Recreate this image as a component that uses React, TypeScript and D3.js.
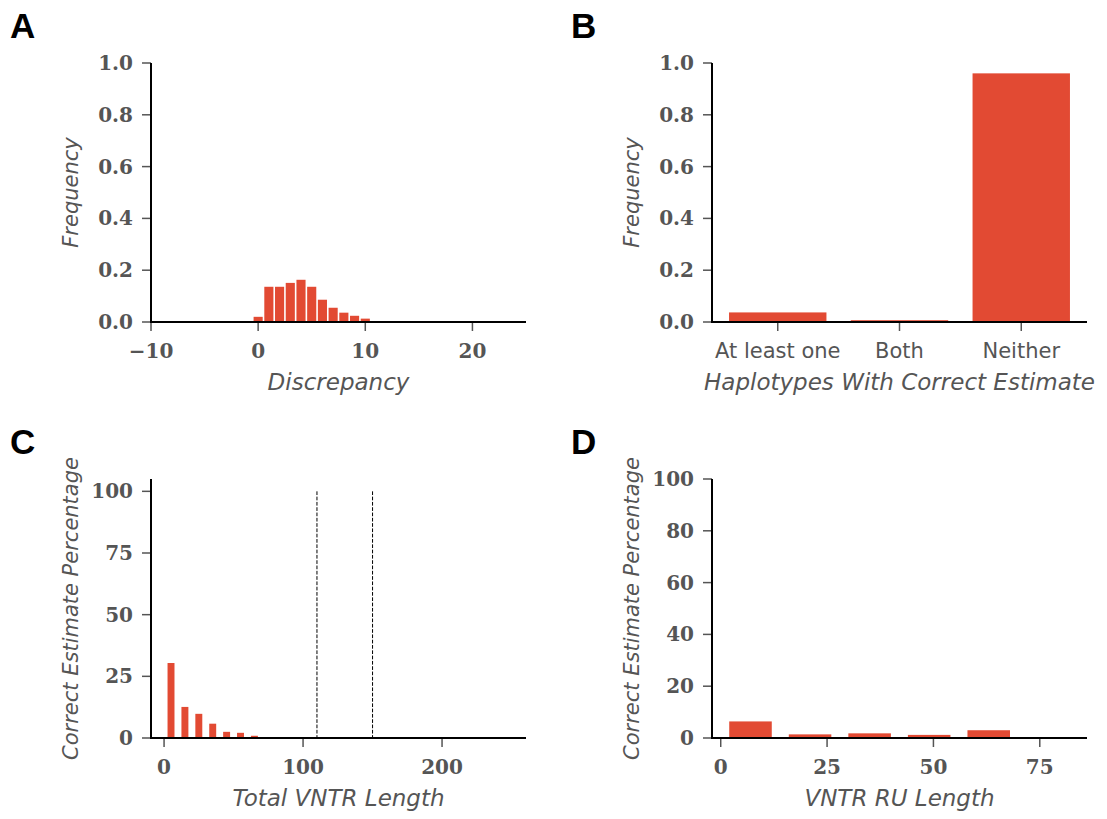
import React from 'react';
import * as d3 from 'd3';

// panel A: discrepancy histogram
const discrepancyBins = [-1, 0, 1, 2, 3, 4, 5, 6, 7, 8, 9, 10, 11, 12];
const discrepancyFreq = [0.002, 0.02, 0.136, 0.136, 0.151, 0.163, 0.136, 0.086, 0.055, 0.036, 0.024, 0.013, 0.003, 0.002];
const discrepancyTicks = [-10, 0, 10, 20];
const freqTicks = [0, 0.2, 0.4, 0.6, 0.8, 1.0];

// panel B: haplotypes with correct estimate
const haplotypeCats = ['At least one', 'Both', 'Neither'];
const haplotypeFreq = [0.037, 0.007, 0.96];

// panel C: total VNTR length
const lengthBins = [5, 15, 25, 35, 45, 55, 65, 75, 85];
const lengthPct = [30.4, 12.6, 9.8, 5.8, 2.5, 2.1, 0.9, 0.3, 0.3];
const lengthTicks = [0, 100, 200];
const lengthPctTicks = [0, 25, 50, 75, 100];
const lengthCutoffs = [110, 150];

// panel D: VNTR RU length
const ruBins = [7, 21, 35, 49, 63];
const ruPct = [6.4, 1.4, 1.8, 1.2, 3.0];
const ruTicks = [0, 25, 50, 75];
const ruPctTicks = [0, 20, 40, 60, 80, 100];

const RED = '#e24a33';
const GREY = '#555';
const tickFont = '"DejaVu Serif", serif';
const labelFont = '"DejaVu Sans", sans-serif';

type PanelProps = {
  letter: string;
  left: number;
  top: number;
  xDomain: [number, number];
  yDomain: [number, number];
  xTicks: number[];
  xTickLabels?: string[];
  yTicks: number[];
  yFormat: (v: number) => string;
  xTitle: string;
  yTitle: string;
  barX: number[];
  barY: number[];
  barWidth: number;
  vlines?: number[];
  vlineTop?: number;
};

const W = 375;
const H = 259;

function Panel(p: PanelProps) {
  const x = d3.scaleLinear().domain(p.xDomain).range([p.left, p.left + W]);
  const y = d3.scaleLinear().domain(p.yDomain).range([p.top + H, p.top]);
  const y0 = p.top + H;
  const fmtX = (v: number) => (v < 0 ? '\u2212' + Math.abs(v) : String(v));
  const isCat = !!p.xTickLabels;
  return (
    <g>
      <text x={p.left - 141} y={p.top - 25} fontFamily='"Liberation Sans", Arial, sans-serif' fontWeight="bold" fontSize={35} fill="#000">
        {p.letter}
      </text>
      {p.barX.map((b, i) => (
        <rect
          key={i}
          x={x(b - p.barWidth / 2)}
          width={x(b + p.barWidth / 2) - x(b - p.barWidth / 2)}
          y={y(p.barY[i])}
          height={y0 - y(p.barY[i])}
          fill={RED}
        />
      ))}
      {(p.vlines || []).map((v, i) => (
        <line key={i} x1={x(v)} x2={x(v)} y1={y(p.vlineTop || 0)} y2={y0} stroke="#000" strokeWidth={1} strokeDasharray="3.7,1.6" />
      ))}
      {/* y axis */}
      {p.yTicks.map((t) => (
        <g key={t}>
          <line x1={p.left - 9} x2={p.left} y1={y(t)} y2={y(t)} stroke={GREY} strokeWidth={1.5} />
          <text x={p.left - 18} y={y(t)} textAnchor="end" dominantBaseline="central" fontFamily={tickFont} fontWeight="bold" fontSize={20} fill={GREY}>
            {p.yFormat(t)}
          </text>
        </g>
      ))}
      {/* x axis */}
      {p.xTicks.map((t, i) => (
        <g key={t}>
          <line x1={x(t)} x2={x(t)} y1={y0} y2={y0 + 9} stroke={GREY} strokeWidth={1.5} />
          <text
            x={x(t)}
            y={y0 + 36}
            textAnchor="middle"
            fontFamily={isCat ? labelFont : tickFont}
            fontWeight={isCat ? 'normal' : 'bold'}
            fontSize={isCat ? 21 : 20}
            fill={GREY}
          >
            {isCat ? p.xTickLabels![i] : fmtX(t)}
          </text>
        </g>
      ))}
      <line x1={p.left} x2={p.left} y1={p.top} y2={y0} stroke="#000" strokeWidth={2} />
      <line x1={p.left - 1} x2={p.left + W} y1={y0} y2={y0} stroke="#000" strokeWidth={2.2} />
      <text x={p.left + W / 2} y={y0 + 68} textAnchor="middle" fontFamily={labelFont} fontStyle="italic" fontSize={23} fill={GREY}>
        {p.xTitle}
      </text>
      <text
        transform={`translate(${p.left - 73},${p.top + H / 2}) rotate(-90)`}
        textAnchor="middle"
        fontFamily={labelFont}
        fontStyle="italic"
        fontSize={21}
        fill={GREY}
      >
        {p.yTitle}
      </text>
    </g>
  );
}

export default function App() {
  const f1 = d3.format('.1f');
  const f0 = d3.format('d');
  return (
    <svg width={1107} height={819} style={{ position: 'absolute', left: 0, top: 0, background: '#fff' }}>
      <rect width={1107} height={819} fill="#fff" />
      <Panel
        letter="A"
        left={151}
        top={63}
        xDomain={[-10, 25]}
        yDomain={[0, 1]}
        xTicks={discrepancyTicks}
        yTicks={freqTicks}
        yFormat={f1}
        xTitle="Discrepancy"
        yTitle="Frequency"
        barX={discrepancyBins}
        barY={discrepancyFreq}
        barWidth={0.85}
      />
      <Panel
        letter="B"
        left={712}
        top={63}
        xDomain={[-0.54, 2.54]}
        yDomain={[0, 1]}
        xTicks={[0, 1, 2]}
        xTickLabels={haplotypeCats}
        yTicks={freqTicks}
        yFormat={f1}
        xTitle="Haplotypes With Correct Estimate"
        yTitle="Frequency"
        barX={[0, 1, 2]}
        barY={haplotypeFreq}
        barWidth={0.8}
      />
      <Panel
        letter="C"
        left={151}
        top={479}
        xDomain={[-9.4, 260.4]}
        yDomain={[0, 105]}
        xTicks={lengthTicks}
        yTicks={lengthPctTicks}
        yFormat={f0}
        xTitle="Total VNTR Length"
        yTitle="Correct Estimate Percentage"
        barX={lengthBins}
        barY={lengthPct}
        barWidth={5}
        vlines={lengthCutoffs}
        vlineTop={100}
      />
      <Panel
        letter="D"
        left={712}
        top={479}
        xDomain={[-2.05, 86.1]}
        yDomain={[0, 100]}
        xTicks={ruTicks}
        yTicks={ruPctTicks}
        yFormat={f0}
        xTitle="VNTR RU Length"
        yTitle="Correct Estimate Percentage"
        barX={ruBins}
        barY={ruPct}
        barWidth={10}
      />
    </svg>
  );
}
